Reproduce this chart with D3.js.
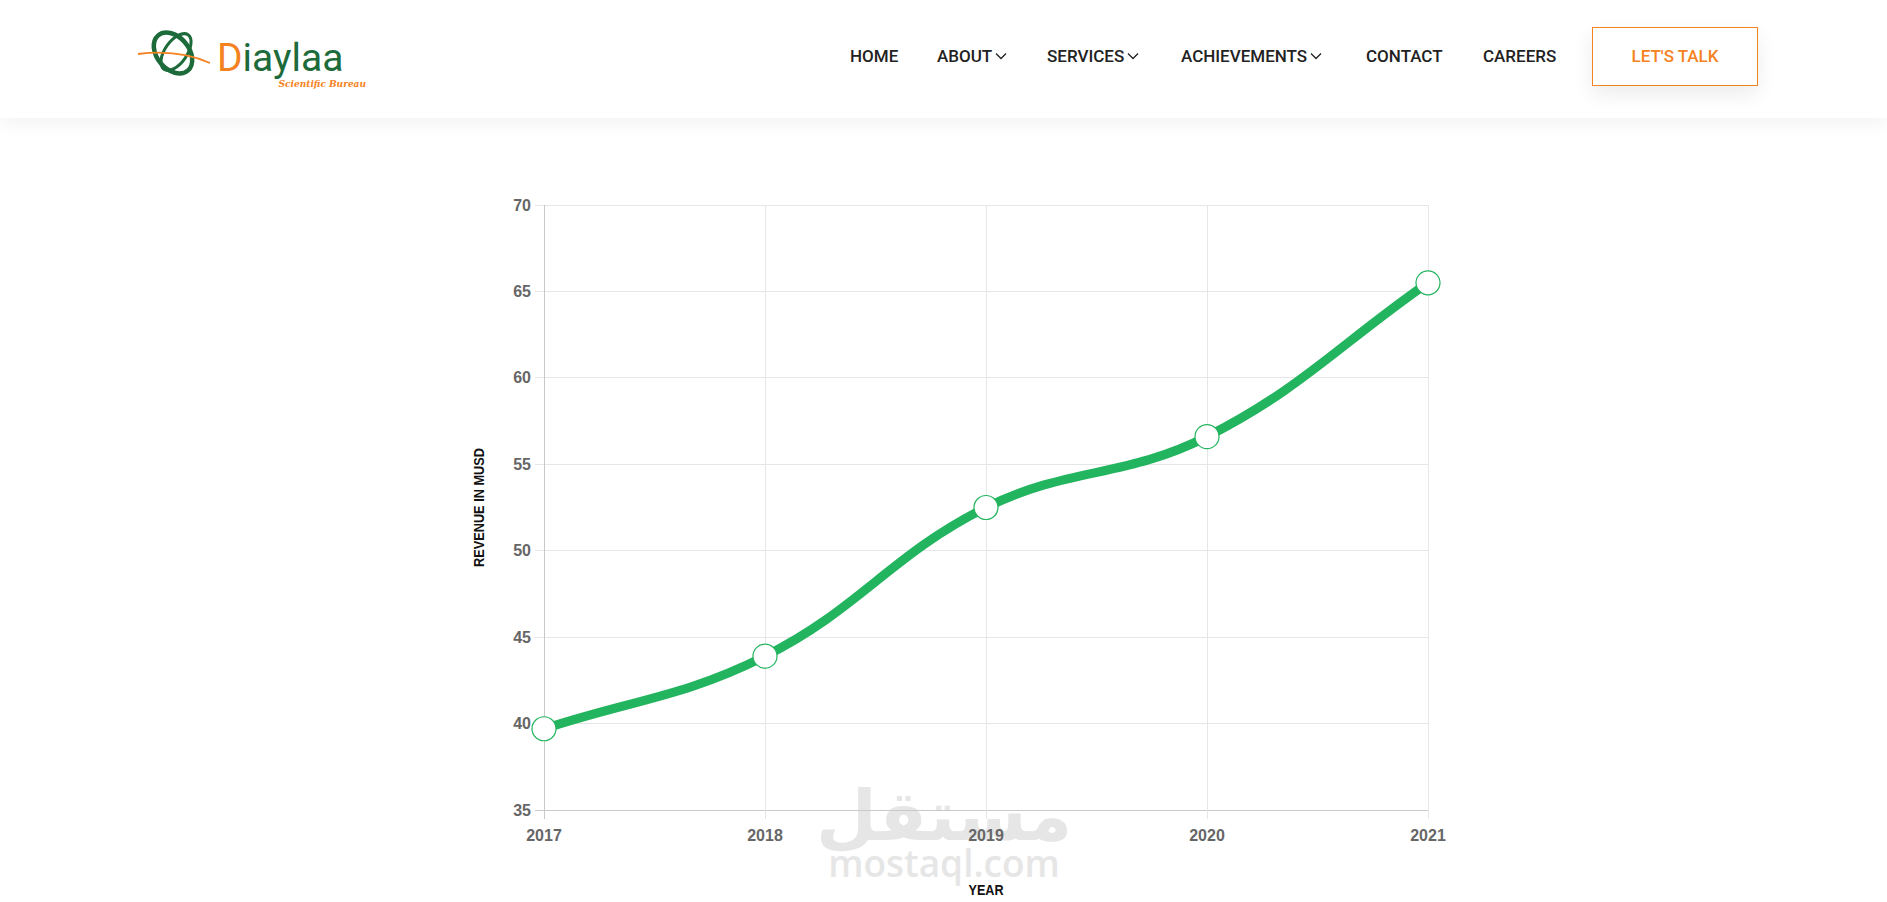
<!DOCTYPE html>
<html>
<head>
<meta charset="utf-8">
<script src="https://cdn.jsdelivr.net/npm/d3@7"></script>
<style>
  html, body { margin: 0; padding: 0; background: #fff; overflow: hidden; }
  body { width: 1887px; height: 902px; position: relative; font-family: Roboto, "Liberation Sans", sans-serif; }
  #header { position: absolute; left: 0; top: 0; width: 1887px; height: 118px; background: #fff;
            box-shadow: 0 6px 18px rgba(0,0,0,0.05); z-index: 2; }
  #chart { position: absolute; left: 0; top: 0; z-index: 1; }
  .nav { position: absolute; top: 46px; font-size: 17px; font-weight: 500; color: #222; white-space: nowrap; }
  .nav svg { margin-left: 3px; vertical-align: 2px; }
  #talk { position: absolute; left: 1592px; top: 27px; width: 166px; height: 59px; border: 1px solid #f58220;
          box-sizing: border-box; color: #f58220; font-size: 17px; font-weight: 500; text-align: center; line-height: 57px;
          box-shadow: 0 8px 20px rgba(0,0,0,0.08); }
</style>
</head>
<body>
<div id="header"></div>
<svg id="chart" width="1887" height="902"></svg>
<script>
// chart values
const years = ["2017", "2018", "2019", "2020", "2021"];
const revenue = [39.7, 43.9, 52.5, 56.6, 65.5];
const yTicks = [35, 40, 45, 50, 55, 60, 65, 70];

// header menu
const menuItems = ["HOME", "ABOUT", "SERVICES", "ACHIEVEMENTS", "CONTACT", "CAREERS"];
const menuDropdown = [false, true, true, true, false, false];
const menuLeft = [850, 937, 1047, 1181, 1366, 1483];

((() => {
  // ---- header ----
  const header = d3.select('#header');

  menuItems.forEach((m, i) => {
    const item = header.append('div')
      .attr('class', 'nav')
      .style('left', menuLeft[i] + 'px')
      .text(m);
    if (menuDropdown[i]) {
      item.append('svg')
        .attr('width', 12).attr('height', 8)
        .append('path')
        .attr('d', 'M1,1.5 L6,6.5 L11,1.5')
        .attr('fill', 'none')
        .attr('stroke', '#222')
        .attr('stroke-width', 1.3);
    }
  });

  header.append('div').attr('id', 'talk').text("LET'S TALK");

  // logo
  const logo = header.append('svg')
    .style('position', 'absolute')
    .style('left', '130px').style('top', '15px')
    .attr('width', 260).attr('height', 80);

  logo.append('ellipse')
    .attr('cx', 43).attr('cy', 38).attr('rx', 23).attr('ry', 16)
    .attr('transform', 'rotate(50 43 38)')
    .attr('fill', 'none').attr('stroke', '#1d6b3a').attr('stroke-width', 4.5);
  logo.append('ellipse')
    .attr('cx', 46).attr('cy', 37).attr('rx', 21).attr('ry', 11)
    .attr('transform', 'rotate(-55 46 37)')
    .attr('fill', 'none').attr('stroke', '#1d6b3a').attr('stroke-width', 3);
  logo.append('path')
    .attr('d', 'M8,39 Q48,34 80,48')
    .attr('fill', 'none').attr('stroke', '#f58220').attr('stroke-width', 1.8);

  const brand = logo.append('text')
    .attr('x', 87).attr('y', 56)
    .style('font-family', 'Roboto, sans-serif')
    .style('font-size', '39px');
  brand.append('tspan').attr('fill', '#f58220').text('D');
  brand.append('tspan').attr('fill', '#1d6b3a').text('iaylaa');

  logo.append('text')
    .attr('x', 236).attr('y', 72)
    .attr('text-anchor', 'end')
    .attr('fill', '#f58220')
    .style('font-family', '"DejaVu Serif", serif')
    .style('font-style', 'italic')
    .style('font-weight', 'bold')
    .style('font-size', '9px')
    .text('Scientific Bureau');

  // ---- chart ----
  const svg = d3.select('#chart');
  const left = 544, right = 1428, top = 205, bottom = 810;

  const x = d3.scalePoint().domain(years).range([left, right]);
  const y = d3.scaleLinear().domain([35, 70]).range([bottom, top]);

  // watermark (under the labels)
  const wm = svg.append('g').attr('opacity', 0.55);
  wm.append('text')
    .attr('x', 944).attr('y', 840)
    .attr('text-anchor', 'middle')
    .attr('fill', '#d2d2d2')
    .style('font-family', '"Noto Sans", "DejaVu Sans", sans-serif')
    .style('font-weight', 'bold')
    .style('font-size', '70px')
    .text('مستقل');
  wm.append('text')
    .attr('x', 944).attr('y', 877)
    .attr('text-anchor', 'middle')
    .attr('fill', '#d2d2d2')
    .style('font-family', '"Open Sans", sans-serif')
    .style('font-weight', '600')
    .style('font-size', '37px')
    .text('mostaql.com');

  // horizontal grid + ticks
  svg.append('g').selectAll('line')
    .data(yTicks)
    .enter().append('line')
    .attr('x1', left - 9).attr('x2', right)
    .attr('y1', d => y(d)).attr('y2', d => y(d))
    .attr('stroke', d => d === 35 ? '#c9c9c9' : '#e6e6e6')
    .attr('stroke-width', 1)
    .attr('shape-rendering', 'crispEdges');

  // vertical grid + ticks
  svg.append('g').selectAll('line')
    .data(years)
    .enter().append('line')
    .attr('x1', d => x(d)).attr('x2', d => x(d))
    .attr('y1', top).attr('y2', bottom + 9)
    .attr('stroke', (d, i) => i === 0 ? '#c9c9c9' : '#e6e6e6')
    .attr('stroke-width', 1)
    .attr('shape-rendering', 'crispEdges');

  // y tick labels
  svg.append('g').selectAll('text')
    .data(yTicks)
    .enter().append('text')
    .attr('x', left - 13)
    .attr('y', d => y(d))
    .attr('dy', '0.35em')
    .attr('text-anchor', 'end')
    .attr('fill', '#666')
    .style('font-family', '"Liberation Sans", Arial, sans-serif')
    .style('font-weight', 'bold')
    .style('font-size', '16px')
    .text(d => d);

  // x tick labels
  svg.append('g').selectAll('text')
    .data(years)
    .enter().append('text')
    .attr('x', d => x(d))
    .attr('y', bottom + 31)
    .attr('text-anchor', 'middle')
    .attr('fill', '#666')
    .style('font-family', '"Liberation Sans", Arial, sans-serif')
    .style('font-weight', 'bold')
    .style('font-size', '16px')
    .text(d => d);

  // axis titles (condensed look)
  svg.append('text')
    .attr('x', (left + right) / 2)
    .attr('y', 895)
    .attr('text-anchor', 'middle')
    .attr('fill', '#111')
    .attr('textLength', 35)
    .attr('lengthAdjust', 'spacingAndGlyphs')
    .style('font-family', '"Liberation Sans", Arial, sans-serif')
    .style('font-weight', 'bold')
    .style('font-size', '15px')
    .text('YEAR');

  svg.append('text')
    .attr('transform', 'translate(484,' + ((top + bottom) / 2) + ') rotate(-90)')
    .attr('text-anchor', 'middle')
    .attr('fill', '#111')
    .attr('textLength', 119)
    .attr('lengthAdjust', 'spacingAndGlyphs')
    .style('font-family', '"Liberation Sans", Arial, sans-serif')
    .style('font-weight', 'bold')
    .style('font-size', '15px')
    .text('REVENUE IN MUSD');

  // line: bezier spline with tension 0.4 (control points scaled by neighbour distances)
  const pts = revenue.map((v, i) => [x(years[i]), y(v)]);
  const tension = 0.4;
  const cps = pts.map((p, i) => {
    const prev = pts[i - 1] || p, next = pts[i + 1] || p;
    const d01 = Math.hypot(p[0] - prev[0], p[1] - prev[1]);
    const d12 = Math.hypot(next[0] - p[0], next[1] - p[1]);
    const s01 = d01 / (d01 + d12) || 0, s12 = d12 / (d01 + d12) || 0;
    const fa = tension * s01, fb = tension * s12;
    return {
      inX: p[0] - fa * (next[0] - prev[0]), inY: p[1] - fa * (next[1] - prev[1]),
      outX: p[0] + fb * (next[0] - prev[0]), outY: p[1] + fb * (next[1] - prev[1])
    };
  });
  const path = d3.path();
  path.moveTo(pts[0][0], pts[0][1]);
  for (let i = 1; i < pts.length; i++) {
    path.bezierCurveTo(cps[i - 1].outX, cps[i - 1].outY, cps[i].inX, cps[i].inY, pts[i][0], pts[i][1]);
  }

  svg.append('path')
    .attr('d', path.toString())
    .attr('fill', 'none')
    .attr('stroke', '#22b45e')
    .attr('stroke-width', 9);

  svg.append('g').selectAll('circle')
    .data(revenue)
    .enter().append('circle')
    .attr('cx', (d, i) => x(years[i]))
    .attr('cy', d => y(d))
    .attr('r', 12)
    .attr('fill', '#fff')
    .attr('stroke', '#22b45e')
    .attr('stroke-width', 1.2);
})());
</script>
</body>
</html>
